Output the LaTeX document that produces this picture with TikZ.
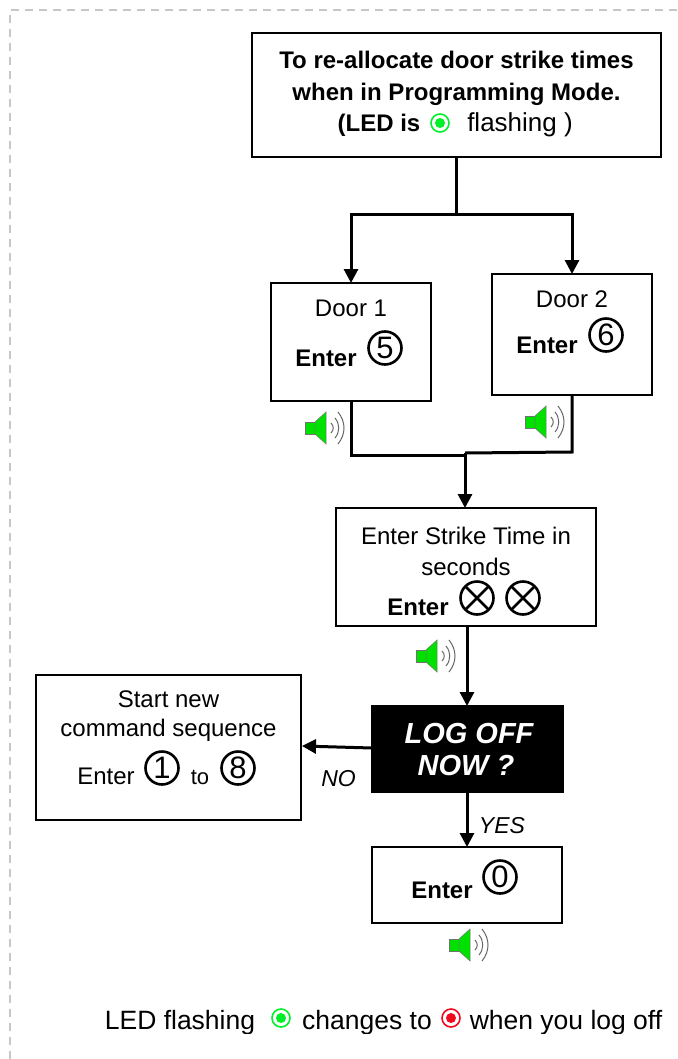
\documentclass[tikz,border=0pt]{standalone}
\usepackage{fontspec}
\setmainfont{Liberation Sans}
\usetikzlibrary{arrows.meta,calc}
\definecolor{ledgreen}{RGB}{0,240,40}
\definecolor{ledred}{RGB}{240,10,30}
\definecolor{spk}{RGB}{0,225,0}
\newcommand{\fs}[1]{\fontsize{#1}{#1}\selectfont}
\tikzset{
  x=1pt,y=-1pt,
  boxnode/.style={draw=black,line width=2pt,fill=white,inner sep=0pt,outer sep=0pt},
  lbl/.style={inner sep=0pt,outer sep=0pt,align=center,anchor=base,font=\fs{24}},
  ylbl/.style={inner sep=0pt,outer sep=0pt,anchor=base,font=\fs{23}\itshape},
  conn/.style={line width=3pt,draw=black},
  arr/.style={conn,-{Triangle[length=14pt,width=14pt]}},
  dig/.style={circle,draw=black,line width=2.6pt,minimum size=33pt,inner sep=0pt,outer sep=0pt,font=\fs{31}},
  cross/.style={circle,draw=black,line width=2.6pt,minimum size=33pt,inner sep=0pt,outer sep=0pt},
  border/.style={draw=black!22,line width=1.3pt,dash pattern=on 8pt off 6pt},
  ledo/.style={circle,draw=#1,line width=1.6pt,fill=white,minimum size=18pt,inner sep=0pt,outer sep=0pt},
  ledi/.style={circle,fill=#1,minimum size=10pt,inner sep=0pt,outer sep=0pt},
  speaker/.pic={
    \fill[spk,draw=black!55,line width=.5pt] (-15,-6) rectangle (-5,6);
    \fill[spk,draw=black!55,line width=.5pt] (-5,-6) -- (6,-16) -- (6,16) -- (-5,6) -- cycle;
    \draw[black!60,line width=1pt] (11,-5) .. controls (14,-2) and (14,2) .. (11,5);
    \draw[black!60,line width=1pt] (15,-10) .. controls (20,-4) and (20,4) .. (15,10);
    \draw[black!60,line width=1pt] (18,-16) .. controls (26,-6) and (26,6) .. (18,16);
  }
}
\newcommand{\led}[4]{\node[ledo=#1] (#2) at (#3,#4) {}; \node[ledi=#1] (#2i) at (#3,#4) {};}
\begin{document}
\begin{tikzpicture}
\useasboundingbox (0,0) rectangle (677,1059);
\fill[white] (0,0) rectangle (677,1059);
\coordinate (bc) at (10,10);
\coordinate (be) at (677,10);
\coordinate (bb) at (10,1059);
\draw[border] (bb) -- (bc) -- (be);

% boxes
\node[boxnode,minimum width=409pt,minimum height=124pt] (top) at (456.5,95.5) {};
\node[boxnode,minimum width=160pt,minimum height=118pt] (d1) at (351,342) {};
\node[boxnode,minimum width=160pt,minimum height=121pt] (d2) at (572,334.5) {};
\node[boxnode,minimum width=260pt,minimum height=118pt] (st) at (466,567) {};
\node[boxnode,fill=black,minimum width=191pt,minimum height=86pt] (lo) at (467.5,749) {};
\node[boxnode,minimum width=265pt,minimum height=145pt] (nw) at (168.5,747.5) {};
\node[boxnode,minimum width=190pt,minimum height=76pt] (z) at (467,885) {};

% connectors
\coordinate (j1) at (top.south |- 0,215);
\coordinate (j1l) at (d1.north |- j1);
\coordinate (j1r) at (d2.north |- j1);
\coordinate (j2) at (465,453);
\coordinate (st-in) at (465,508);
\draw[conn] (top.south) -- (j1);
\draw[arr] (j1) -- (j1l) -- (d1.north);
\draw[arr] (j1) -- (j1r) -- (d2.north);
\draw[conn] (d1.south) -- (d1.south |- 0,455) -- (465,455);
\draw[conn] (d2.south) -- (d2.south |- 0,452) -- (j2);
\draw[arr] (j2) -- (st-in);
\coordinate (stout) at (467,626);
\coordinate (loin) at (467,706);
\coordinate (loout) at (467,792);
\coordinate (zin) at (467,847);
\coordinate (lol) at (372,748);
\coordinate (nwr) at (302,746);
\draw[arr] (stout) -- (loin);
\draw[arr] (lol) -- (nwr);
\draw[arr] (loout) -- (zin);

% top text
\node[lbl,font=\fs{24}\bfseries] (t1) at (456.5,69) {To re-allocate door strike times};
\node[lbl,font=\fs{24}\bfseries] (t2) at (456.5,100.5) {when in Programming Mode.};
\node[lbl,font=\fs{24}\bfseries] (t3) at (379,132) {(LED is};
\led{ledgreen}{ledA}{440}{123}
\node[lbl,font=\fs{26}] (t4) at (520,132) {flashing )};

% door 1
\node[lbl] (d1t) at (351,316) {Door 1};
\node[lbl,font=\fs{24}\bfseries] (d1e) at (326,366) {Enter};
\node[dig] (n5) at (385,348) {5};
% door 2
\node[lbl] (d2t) at (572,307) {Door 2};
\node[lbl,font=\fs{24}\bfseries] (d2e) at (547,353) {Enter};
\node[dig] (n6) at (606,335) {6};
% speakers
\pic at (320,428) {speaker};
\pic at (540,422) {speaker};
\pic at (431,656) {speaker};
\pic at (464,945) {speaker};

% strike
\node[lbl] (s1) at (466,544) {Enter Strike Time in};
\node[lbl] (s2) at (466,575) {seconds};
\node[lbl,font=\fs{24}\bfseries] (s3) at (418,615) {Enter};
\node[cross] (x1) at (477,598) {};
\node[cross] (x2) at (523,598) {};
\draw[line width=2.6pt] (x1.north west) -- (x1.south east) (x1.north east) -- (x1.south west);
\draw[line width=2.6pt] (x2.north west) -- (x2.south east) (x2.north east) -- (x2.south west);

% log off
\node[lbl,text=white,font=\fs{29}\bfseries\itshape] (l1) at (469,743) {LOG OFF};
\node[lbl,text=white,font=\fs{29}\bfseries\itshape] (l2) at (466,775) {NOW ?};
\node[ylbl] (no) at (338.5,786) {NO};
\node[ylbl] (yes) at (502,833) {YES};

% new sequence
\node[lbl] (n1) at (168.5,707) {Start new};
\node[lbl] (n2) at (168.5,736) {command sequence};
\node[lbl] (n3) at (106,784) {Enter};
\node[dig] (n11) at (162,768) {1};
\node[lbl,font=\fs{22}] (n4) at (200,784) {to};
\node[dig] (n8) at (238,768) {8};

% enter 0
\node[lbl,font=\fs{24}\bfseries] (ze) at (442,898) {Enter};
\node[dig] (n0) at (500,877) {0};

% footer
\node[lbl,font=\fs{26.5}] (f1) at (180,1029) {LED flashing};
\led{ledgreen}{ledB}{281}{1018}
\node[lbl,font=\fs{26.5}] (f2) at (367,1029) {changes to};
\led{ledred}{ledC}{451}{1018}
\node[lbl,font=\fs{26.5}] (f3) at (566,1029) {when you log off};
\fill[white] (60,1033.5) rectangle (677,1059);
\end{tikzpicture}
\end{document}
